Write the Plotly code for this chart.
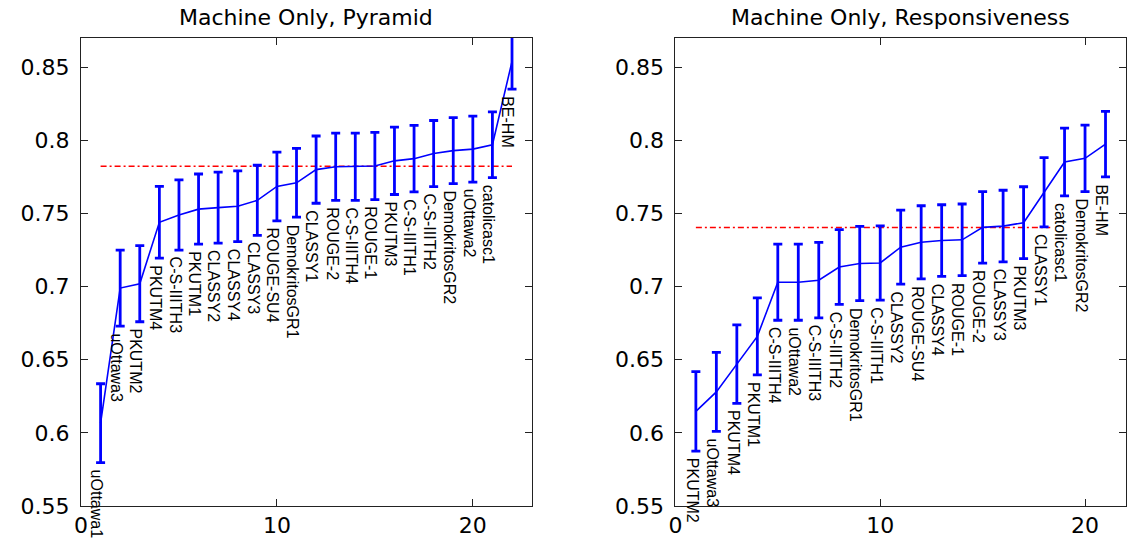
import plotly.graph_objects as go

# ---------------- data ----------------
pyr_labels = ["uOttawa1", "uOttawa3", "PKUTM2", "PKUTM4", "C-S-IIITH3", "PKUTM1",
              "CLASSY2", "CLASSY4", "CLASSY3", "ROUGE-SU4", "DemokritosGR1", "CLASSY1",
              "ROUGE-2", "C-S-IIITH4", "ROUGE-1", "PKUTM3", "C-S-IIITH1", "C-S-IIITH2",
              "DemokritosGR2", "uOttawa2", "catolicasc1", "BE-HM"]
pyr_mean = [0.6066, 0.699, 0.702, 0.744, 0.749, 0.753, 0.754, 0.755, 0.759, 0.7685,
            0.771, 0.780, 0.782, 0.782, 0.7825, 0.786, 0.7875, 0.791, 0.793, 0.794,
            0.797, 0.854]
pyr_err = [0.027, 0.026, 0.026, 0.0245, 0.024, 0.024, 0.0243, 0.0242, 0.024, 0.0235,
           0.0235, 0.023, 0.023, 0.023, 0.023, 0.023, 0.0227, 0.0226, 0.0226, 0.0226,
           0.0225, 0.019]
pyr_ref_y = 0.7823
pyr_ref_x = [1, 22]

resp_labels = ["PKUTM2", "uOttawa3", "PKUTM4", "PKUTM1", "C-S-IIITH4", "uOttawa2",
               "C-S-IIITH3", "C-S-IIITH2", "DemokritosGR1", "C-S-IIITH1", "CLASSY2",
               "ROUGE-SU4", "CLASSY4", "ROUGE-1", "ROUGE-2", "CLASSY3", "PKUTM3",
               "CLASSY1", "catolicasc1", "DemokritosGR2", "BE-HM"]
resp_mean = [0.6147, 0.628, 0.647, 0.666, 0.703, 0.703, 0.7044, 0.7134, 0.7158, 0.7162,
             0.727, 0.7303, 0.7315, 0.732, 0.7405, 0.7414, 0.7437, 0.7645, 0.7852,
             0.7877, 0.7974]
resp_err = [0.0272, 0.027, 0.0268, 0.0263, 0.026, 0.026, 0.0258, 0.0256, 0.0254, 0.0254,
            0.0253, 0.025, 0.0245, 0.0245, 0.0245, 0.0245, 0.0246, 0.0237, 0.0232,
            0.0227, 0.0224]
resp_ref_y = 0.7405
resp_ref_x = [1, 18.3]

titles = ["Machine Only, Pyramid", "Machine Only, Responsiveness"]
x_ranges = [[0, 23], [0, 22]]
x_ticks = [0, 10, 20]
y_ticks = [0.55, 0.6, 0.65, 0.7, 0.75, 0.8, 0.85]
y_tick_text = ["0.55", "0.6", "0.65", "0.7", "0.75", "0.8", "0.85"]
y_range = [0.55, 0.87]

# ---------------- styling ----------------
BLUE = "#0000ff"
RED = "#ff0000"
TICK_FONT = dict(family="DejaVu Sans", size=22, color="black")
LABEL_FONT = dict(family="Liberation Sans, Arial", size=16, color="black")
TITLE_FONT = dict(family="DejaVu Sans", size=22, color="black")

fig = go.Figure()

panels = [
    (pyr_labels, pyr_mean, pyr_err, pyr_ref_x, pyr_ref_y, "x", "y"),
    (resp_labels, resp_mean, resp_err, resp_ref_x, resp_ref_y, "x2", "y2"),
]

annotations = []
for k, (labels, mean, err, rx, ry, xa, ya) in enumerate(panels):
    xs = list(range(1, len(mean) + 1))
    fig.add_trace(go.Scatter(
        x=rx, y=[ry] * len(rx), mode="lines", xaxis=xa, yaxis=ya,
        line=dict(color=RED, width=1.5, dash="6px,3px,2px,3px"),
        hoverinfo="skip", showlegend=False))
    fig.add_trace(go.Scatter(
        x=xs, y=mean, mode="lines", xaxis=xa, yaxis=ya,
        line=dict(color=BLUE, width=1.6),
        error_y=dict(type="data", array=err, visible=True, color=BLUE,
                     thickness=2.8, width=4.5),
        showlegend=False))
    for xi, m, e, lab in zip(xs, mean, err, labels):
        annotations.append(dict(
            x=xi, y=m - e, xref=xa, yref=ya, text=lab, textangle=90,
            xanchor="center", yanchor="top", xshift=-4, yshift=-5,
            showarrow=False, font=LABEL_FONT))
    annotations.append(dict(
        x=0.5, y=1, xref=f"{xa} domain", yref=f"{ya} domain", text=titles[k],
        xanchor="center", yanchor="bottom", yshift=6, showarrow=False,
        font=TITLE_FONT))

axis_common = dict(showline=True, linecolor="#222222", linewidth=1, mirror="ticks",
                   ticks="inside", ticklen=7, tickcolor="#222222", showgrid=False,
                   zeroline=False, tickfont=TICK_FONT)

fig.update_layout(
    width=1133, height=544,
    margin=dict(l=81, r=6, t=38, b=36),
    plot_bgcolor="white", paper_bgcolor="white",
    annotations=annotations,
    xaxis=dict(domain=[0, 0.4312], range=x_ranges[0], tickvals=x_ticks, anchor="y",
               **axis_common),
    yaxis=dict(range=y_range, tickvals=y_ticks, ticktext=y_tick_text, anchor="x",
               ticklabelstandoff=6, **axis_common),
    xaxis2=dict(domain=[0.5688, 1], range=x_ranges[1], tickvals=x_ticks, anchor="y2",
                **axis_common),
    yaxis2=dict(range=y_range, tickvals=y_ticks, ticktext=y_tick_text, anchor="x2",
                ticklabelstandoff=6, **axis_common),
)

# remove the default page margin so the figure fills the window exactly
fig.write_html("out.html",
               config={"displayModeBar": False},
               post_script="document.body.style.margin='0';"
                           "document.body.style.overflow='hidden';")
